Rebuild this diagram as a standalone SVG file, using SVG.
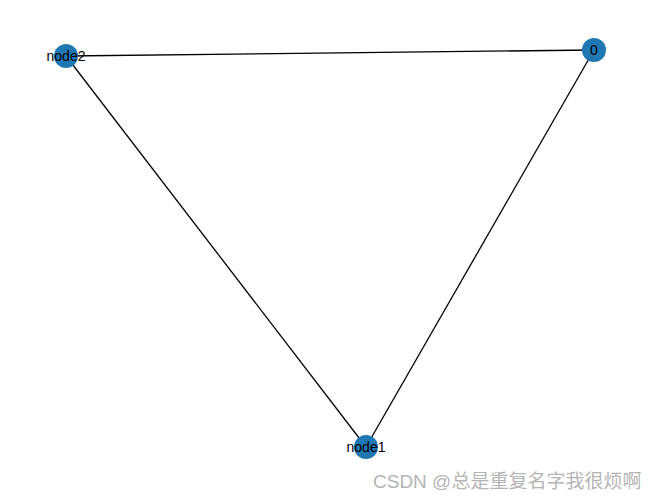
<svg xmlns="http://www.w3.org/2000/svg" width="660" height="499" viewBox="0 0 660 499">
<style>
.edge{stroke:#000;stroke-width:1.3;fill:none}
.node circle{fill:#1f77b4}
.node text{font-family:"Liberation Sans",Arial,sans-serif;font-size:14px;fill:#000;text-anchor:middle;dominant-baseline:central}
.wm{font-family:"Liberation Sans","Noto Sans CJK SC",sans-serif;font-size:19px;fill:#b4b4b4}
</style>
<rect width="660" height="499" fill="#fff"/>
<g id="edges">
<line class="edge" x1="66" y1="56" x2="594" y2="50"/>
<line class="edge" x1="66" y1="56" x2="366" y2="447"/>
<line class="edge" x1="594" y1="50" x2="366" y2="447"/>
</g>
<g id="node-node2" class="node"><circle cx="66" cy="56" r="12"/><text x="66" y="56">node2</text></g>
<g id="node-0" class="node"><circle cx="594" cy="50" r="12"/><text x="594" y="50">0</text></g>
<g id="node-node1" class="node"><circle cx="366" cy="447" r="12"/><text x="366" y="447">node1</text></g>
<text class="wm" x="373" y="488">CSDN @总是重复名字我很烦啊</text>
</svg>
